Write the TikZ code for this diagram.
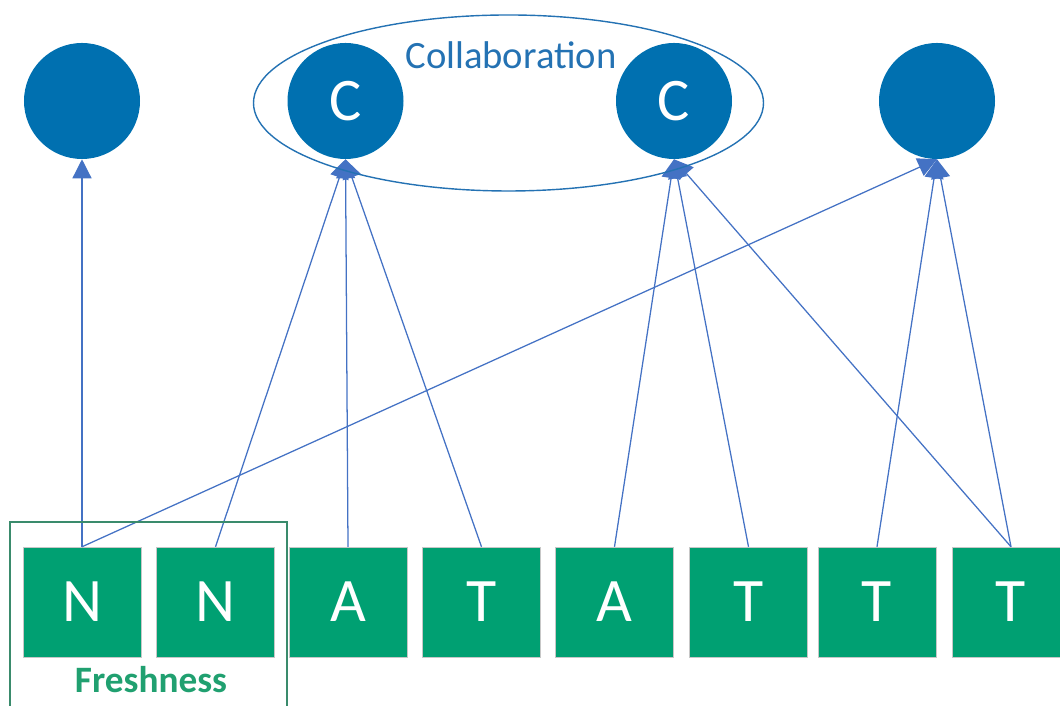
\documentclass[tikz,border=0pt]{standalone}
\usepackage{fontspec}
\setmainfont{Carlito}
\usepackage{xcolor}
\usetikzlibrary{arrows.meta,positioning,shapes.geometric}
\definecolor{UnitBlue}{HTML}{0070B0}
\definecolor{LinkBlue}{HTML}{4472C4}
\definecolor{OvalBlue}{HTML}{2472B3}
\definecolor{FeatGreen}{HTML}{00A072}
\definecolor{FrameGreen}{HTML}{3A8B6C}
\definecolor{LabelGreen}{HTML}{20A070}
\tikzset{
  unitNode/.style={circle, fill=UnitBlue, minimum size=29mm, inner sep=0pt, font=\fontsize{43pt}{43pt}\selectfont, text=white},
  featNode/.style={rectangle, fill=FeatGreen, draw=black!22, line width=0.3pt, minimum width=29.5mm, minimum height=27.5mm, inner sep=0pt, font=\fontsize{44pt}{44pt}\selectfont, text=white},
  link/.style={-{Triangle[length=4.75mm, width=4.75mm]}, draw=LinkBlue, line width=0.9pt},
  groupOval/.style={ellipse, draw=OvalBlue, line width=1pt, minimum width=127.5mm, minimum height=44mm, inner sep=0pt},
  groupFrame/.style={draw=FrameGreen, line width=0.9pt}
}

\begin{document}
\begin{tikzpicture}[x=0.25mm, y=0.25mm]
  \useasboundingbox (0,0) rectangle (1060,706);
  \clip (0,0) rectangle (1060,706);

  % top units
  \node[unitNode] (c1) at (82, 605) {};
  \node[unitNode] (c2) at (345.5, 605) {C};
  \node[unitNode] (c3) at (674, 605) {C};
  \node[unitNode] (c4) at (937, 605) {};

  % feature boxes
  \node[featNode] (f1) at (82, 104) {N};
  \node[featNode] (f2) at (215.5, 104) {N};
  \node[featNode] (f3) at (348, 104) {A};
  \node[featNode] (f4) at (481.5, 104) {T};
  \node[featNode] (f5) at (614.5, 104) {A};
  \node[featNode] (f6) at (748.5, 104) {T};
  \node[featNode] (f7) at (877, 104) {T};
  \node[featNode] (f8) at (1011, 104) {T};

  % links
  \draw[link] (f1.north) -- (c1.south);
  \draw[link] (f1.north) -- (c4.south);
  \foreach \i in {f2, f3, f4}
    \draw[link] (\i.north) -- (c2.south);
  \foreach \i in {f5, f6, f8}
    \draw[link] (\i.north) -- (c3.south);
  \foreach \i in {f7, f8}
    \draw[link] (\i.north) -- (c4.south);

  % groups
  \node[groupOval] (collab) at (508.5, 603) {};
  \node[anchor=base, font=\fontsize{27.5pt}{27.5pt}\selectfont, text=OvalBlue] (collabLbl) at (511, 637) {Collaboration};

  \draw[groupFrame] (10, -20) rectangle (287, 184);
  \node[anchor=base, font=\fontsize{26.5pt}{26.5pt}\selectfont\bfseries, text=LabelGreen] (freshLbl) at (151, 13) {Freshness};
\end{tikzpicture}
\end{document}
